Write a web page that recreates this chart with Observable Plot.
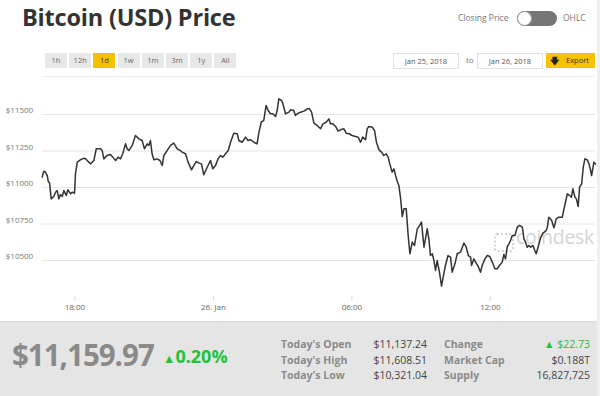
<!DOCTYPE html>
<html>
<head>
<meta charset="utf-8">
<script src="https://cdn.jsdelivr.net/npm/d3@7"></script>
<script src="https://cdn.jsdelivr.net/npm/@observablehq/plot@0.6"></script>
<style>
  html, body { margin: 0; padding: 0; }
  body { width: 600px; height: 396px; position: relative; overflow: hidden; background: #fff; font-family: "Open Sans", sans-serif; }
  .abs { position: absolute; white-space: nowrap; }
  .btn { position: absolute; top: 53px; width: 22px; height: 15px; background: #e8e8e8; color: #666; font-size: 7.5px; line-height: 15px; text-align: center; }
  .btn.on { background: #f5c000; color: #333; }
  .datebox { position: absolute; top: 53px; height: 14px; width: 64px; border: 1px solid #e2e2e2; background: #fff; color: #555; font-size: 7.5px; line-height: 14px; text-align: center; }
  .lbl { position: absolute; font-weight: 700; color: #8a8a8a; font-size: 10.5px; }
  .val { position: absolute; color: #444; font-size: 10.5px; text-align: right; }
  #chart { position: absolute; left: 0; top: 76px; }
</style>
</head>
<body>
<div class="abs" style="left:22px; top:1px; font-size:23.5px; font-weight:700; color:#333; letter-spacing:-0.2px;">Bitcoin (USD) Price</div>

<div id="buttons"></div>

<div class="abs" style="left:458px; top:12px; font-size:8.5px; color:#777;">Closing Price</div>
<div class="abs" style="left:517px; top:11px; width:40px; height:15px; border-radius:8px; background:#767676;"></div>
<div class="abs" style="left:517px; top:11px; width:13px; height:13px; border-radius:8px; background:#fff; border:1px solid #999;"></div>
<div class="abs" style="left:563px; top:12px; font-size:8.5px; color:#777;">OHLC</div>

<div class="datebox" style="left:393px;">Jan 25, 2018</div>
<div class="abs" style="left:466px; top:54px; font-size:8px; color:#777;">to</div>
<div class="datebox" style="left:477px;">Jan 26, 2018</div>
<div class="abs" style="left:546px; top:53px; width:49px; height:15px; background:#f5c300;"></div>
<div class="abs" style="left:550px; top:54px; font-size:9px; font-weight:700; color:#222;">&#129095;</div>
<div class="abs" style="left:566px; top:55px; font-size:7.5px; color:#333;">Export</div>

<div class="abs" style="left:42px; top:76px; width:553px; height:1px; background:#eeeeee;"></div>

<div class="abs" style="left:494px; top:233px; width:16px; height:15px; border:2px dotted #d4d4d4; border-radius:3px;"></div>
<div class="abs" style="left:516px; top:223px; font-size:19.5px; color:#d4d4d4; letter-spacing:-0.3px;">coindesk</div>

<div id="chart"></div>

<div class="abs" style="left:0; top:321px; width:597px; height:75px; background:#e5e5e5; border-top:1px solid #dcdcdc;"></div>
<div class="abs" style="left:597px; top:0; width:3px; height:396px; background:#efefef;"></div>

<div class="abs" style="left:12px; top:334px; font-size:29.5px; font-weight:700; color:#8a8a8a; letter-spacing:-1px;">$11,159.97</div>
<div class="abs" style="left:163px; top:344px; font-size:18px; font-weight:700; color:#22c23a;"><span style="font-size:12.5px;">&#9650;</span>0.20%</div>

<div id="stats"></div>

<script>
// ---- data ----
const startTime = "2018-01-25T16:35:00Z";
const hours = [0.00,0.07,0.14,0.22,0.26,0.32,0.39,0.50,0.58,0.65,0.72,0.79,0.87,0.94,1.04,1.11,1.23,1.30,1.40,1.44,1.52,1.62,1.73,1.85,1.95,2.09,2.24,2.34,2.53,2.60,2.67,2.81,2.96,3.06,3.18,3.29,3.39,3.49,3.61,3.68,3.75,3.90,4.04,4.19,4.33,4.43,4.55,4.62,4.69,4.76,4.84,4.98,5.10,5.20,5.27,5.41,5.56,5.70,5.85,5.99,6.06,6.21,6.32,6.47,6.57,6.67,6.79,6.90,7.00,7.15,7.29,7.39,7.51,7.62,7.73,7.83,7.94,8.06,8.16,8.30,8.45,8.52,8.66,8.81,8.92,9.03,9.17,9.31,9.39,9.49,9.60,9.70,9.79,9.89,9.99,10.11,10.18,10.25,10.37,10.43,10.54,10.69,10.76,10.90,10.97,11.05,11.19,11.34,11.48,11.58,11.67,11.77,11.91,12.06,12.16,12.30,12.42,12.49,12.59,12.71,12.82,12.92,13.07,13.17,13.29,13.43,13.57,13.69,13.79,13.89,14.01,14.08,14.15,14.30,14.40,14.48,14.59,14.70,14.80,14.90,14.99,15.05,15.16,15.24,15.31,15.38,15.45,15.52,15.60,15.67,15.77,15.86,15.93,16.03,16.13,16.25,16.35,16.43,16.54,16.68,16.75,16.82,16.90,16.97,17.04,17.11,17.21,17.30,17.37,17.47,17.58,17.69,17.76,17.88,17.98,18.12,18.27,18.37,18.46,18.56,18.60,18.70,18.80,18.89,18.99,19.06,19.18,19.28,19.39,19.50,19.61,19.71,19.81,19.93,20.00,20.07,20.15,20.22,20.29,20.36,20.48,20.58,20.68,20.80,20.87,20.94,21.01,21.08,21.16,21.26,21.34,21.40,21.49,21.59,21.69,21.81,21.88,21.95,22.07,22.17,22.27,22.38,22.53,22.64,22.75,22.85,22.93,22.99,23.08,23.14,23.22,23.28,23.37,23.44,23.51,23.61,23.68,23.76,23.80,23.86,23.90,23.97];
const prices = [11071,11112,11105,11082,11043,11030,10922,10938,10968,10979,10922,10952,10938,10979,10945,10984,10957,10968,10961,11094,11174,11185,11196,11201,11185,11162,11185,11265,11265,11253,11196,11219,11226,11208,11185,11208,11196,11231,11299,11265,11253,11288,11356,11333,11322,11265,11299,11288,11322,11231,11190,11196,11185,11151,11219,11253,11288,11304,11265,11253,11242,11231,11174,11121,11151,11178,11167,11162,11087,11139,11185,11128,11151,11196,11219,11208,11231,11253,11310,11372,11368,11322,11310,11345,11322,11327,11310,11299,11379,11447,11459,11562,11527,11505,11505,11486,11527,11607,11596,11573,11505,11516,11532,11527,11493,11505,11516,11523,11539,11539,11516,11441,11425,11402,11436,11447,11470,11436,11436,11418,11386,11395,11402,11372,11368,11356,11349,11345,11310,11345,11327,11402,11418,11413,11390,11310,11258,11242,11219,11231,11208,11167,11105,11128,11082,11043,11014,10934,10801,10854,10854,10660,10546,10626,10603,10717,10740,10763,10591,10717,10648,10534,10546,10500,10432,10500,10420,10325,10386,10466,10534,10523,10420,10477,10546,10557,10619,10591,10534,10523,10466,10511,10482,10459,10420,10466,10511,10534,10527,10489,10443,10443,10466,10489,10541,10511,10596,10614,10637,10671,10671,10728,10740,10728,10648,10626,10591,10603,10591,10603,10569,10546,10596,10655,10687,10701,10724,10797,10774,10724,10785,10797,10797,10877,10957,10945,10934,10991,10934,10922,10870,11002,11025,11139,11196,11190,11167,11116,11082,11135,11174,11160];

const yTicks = [10500, 10750, 11000, 11250, 11500];
const xTickTimes = ["2018-01-25T18:00:00Z", "2018-01-26T00:00:00Z", "2018-01-26T06:00:00Z", "2018-01-26T12:00:00Z"];
const xTickLabels = ["18:00", "26. Jan", "06:00", "12:00"];

const rangeButtons = ["1h", "12h", "1d", "1w", "1m", "3m", "1y", "All"];
const activeRange = "1d";

const statLabelsLeft = ["Today's Open", "Today's High", "Today's Low"];
const statValuesLeft = ["$11,137.24", "$11,608.51", "$10,321.04"];
const statLabelsRight = ["Change", "Market Cap", "Supply"];
const statValuesRight = ["\u25B2 $22.73", "$0.188T", "16,827,725"];

// ---- build ----
const t0 = new Date(startTime).getTime();
const data = hours.map((h, i) => ({t: new Date(t0 + h * 3600e3), v: prices[i]}));
const tickDates = xTickTimes.map(s => new Date(s));
const fmtX = d => xTickLabels[tickDates.findIndex(t => +t === +d)];

const bw = document.getElementById("buttons");
rangeButtons.forEach((b, i) => {
  const el = document.createElement("div");
  el.className = "btn" + (b === activeRange ? " on" : "");
  el.style.left = (45 + i * 24.2) + "px";
  el.textContent = b;
  bw.appendChild(el);
});

const st = document.getElementById("stats");
const rowsTop = [337, 352.5, 368];
statLabelsLeft.forEach((l, i) => {
  st.insertAdjacentHTML("beforeend",
    `<div class="lbl" style="left:281px; top:${rowsTop[i]}px;">${l}</div>` +
    `<div class="val" style="right:${600 - 427}px; top:${rowsTop[i]}px;">${statValuesLeft[i]}</div>` +
    `<div class="lbl" style="left:444px; top:${rowsTop[i]}px;">${statLabelsRight[i]}</div>` +
    `<div class="val" style="right:${600 - 590}px; top:${rowsTop[i]}px; ${i === 0 ? "color:#22c23a;" : ""}">${statValuesRight[i]}</div>`);
});

const chart = Plot.plot({
  width: 600,
  height: 244,
  marginLeft: 41.7,
  marginRight: 5,
  marginTop: 1.5,
  marginBottom: 23.5,
  style: {background: "transparent", fontFamily: "'Open Sans', sans-serif"},
  x: {type: "utc", domain: d3.extent(data, d => d.t)},
  y: {domain: [10250, 11750]},
  marks: [
    Plot.gridY(yTicks, {stroke: "#e6e6e6", strokeOpacity: 1, strokeWidth: 1}),
    Plot.axisY(yTicks, {tickSize: 0, tickPadding: 9, tickFormat: d => "$" + d, fill: "#777", fontSize: 8, dy: -4, label: null}),
    Plot.axisX(tickDates, {tickSize: 4, tickPadding: 3, tickFormat: fmtX, stroke: "#ccd6eb", fill: "#666", fontSize: 8, label: null}),
    Plot.line(data, {x: "t", y: "v", stroke: "#333", strokeWidth: 1.5, curve: "linear"})
  ]
});
document.getElementById("chart").appendChild(chart);
</script>
</body>
</html>
